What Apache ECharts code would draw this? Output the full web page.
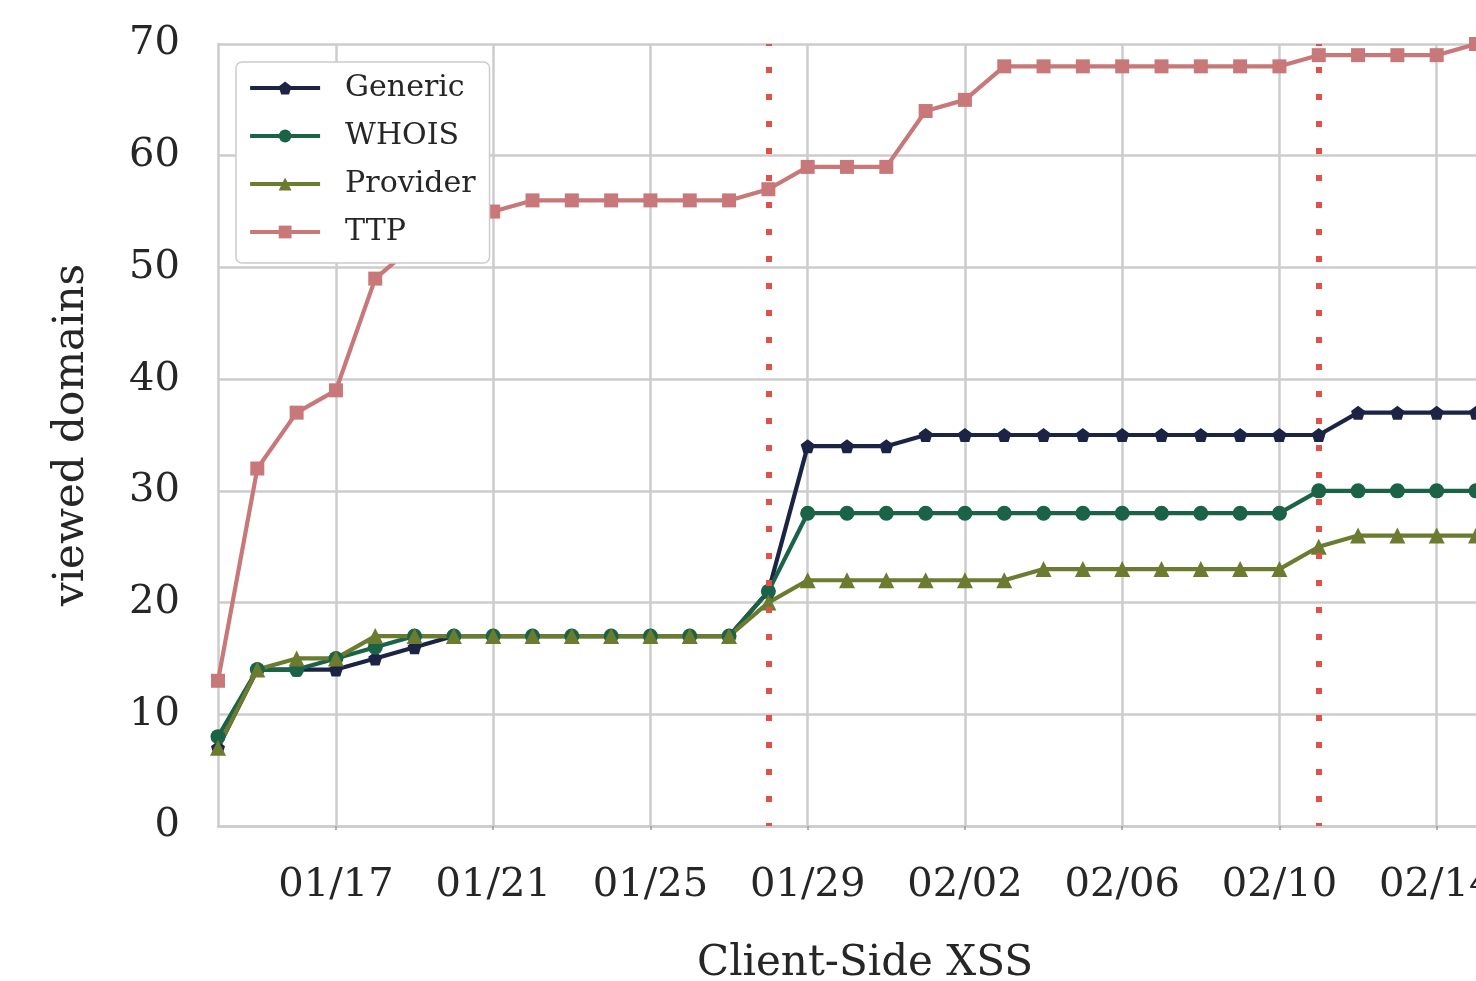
<!DOCTYPE html>
<html>
<head>
<meta charset="utf-8">
<script src="https://cdn.jsdelivr.net/npm/echarts@6/dist/echarts.min.js"></script>
<style>
html,body{margin:0;padding:0;background:#fff;}
#chart{width:1476px;height:981px;}
</style>
</head>
<body>
<div id="chart"></div>
<script>
const dates = ['01/14','01/15','01/16','01/17','01/18','01/19','01/20','01/21','01/22','01/23','01/24','01/25','01/26','01/27','01/28','01/29','01/30','01/31','02/01','02/02','02/03','02/04','02/05','02/06','02/07','02/08','02/09','02/10','02/11','02/12','02/13','02/14','02/15'];
const generic  = [7,14,14,14,15,16,17,17,17,17,17,17,17,17,21,34,34,34,35,35,35,35,35,35,35,35,35,35,35,37,37,37,37];
const whois    = [8,14,14,15,16,17,17,17,17,17,17,17,17,17,21,28,28,28,28,28,28,28,28,28,28,28,28,28,30,30,30,30,30];
const provider = [7,14,15,15,17,17,17,17,17,17,17,17,17,17,20,22,22,22,22,22,22,23,23,23,23,23,23,23,25,26,26,26,26];
const ttp      = [13,32,37,39,49,52,54,55,56,56,56,56,56,56,57,59,59,59,64,65,68,68,68,68,68,68,68,68,69,69,69,69,70];
const eventDates = ['01/28','02/11'];
const seriesNames = ['Generic','WHOIS','Provider','TTP'];
const yTicks = [0,10,20,30,40,50,60,70];

const FONT = 'DejaVu Serif';
const TXT = '#262626';
const GRID = '#cccccc';
const pentagon = 'path://M0,-1 L0.951,-0.309 L0.588,0.809 L-0.588,0.809 L-0.951,-0.309 Z';
const tickFn = (i) => (i - 3) % 4 === 0;

const chart = echarts.init(document.getElementById('chart'), null, {renderer:'canvas'});
function mk(name, data, color, symbol, size) {
  return {
    name, type:'line', data, symbol, symbolSize:size, showAllSymbol:true,
    lineStyle:{color, width:4.2}, itemStyle:{color}, z:3
  };
}
chart.setOption({
  animation:false,
  backgroundColor:'#ffffff',
  textStyle:{fontFamily:FONT},
  grid:{left:218, top:44, right:0, bottom:155, containLabel:false, outerBoundsMode:'none'},
  legend:{
    data:seriesNames, orient:'vertical', left:236, top:62,
    backgroundColor:'#ffffff', borderColor:'#cccccc', borderWidth:1.5, borderRadius:6,
    padding:[8,14,13,12], itemWidth:70, itemHeight:16, itemGap:12,
    lineStyle:{width:4.2},
    textStyle:{fontFamily:FONT, fontSize:30, color:TXT, lineHeight:36, padding:[0,0,0,20]}
  },
  xAxis:{
    type:'category', data:dates, boundaryGap:false,
    name:'Client-Side XSS', nameLocation:'middle', nameGap:117,
    nameTextStyle:{fontFamily:FONT, fontSize:42, color:TXT, padding:[0,0,0,36]},
    axisLine:{show:true, lineStyle:{color:GRID, width:2.5}},
    axisTick:{show:true, interval:tickFn, length:4, lineStyle:{color:'#999', width:1.5}},
    axisLabel:{interval:tickFn, fontFamily:FONT, fontSize:40, color:TXT, margin:40},
    splitLine:{show:true, interval:tickFn, lineStyle:{color:GRID, width:2.5}}
  },
  yAxis:{
    type:'value', min:yTicks[0], max:yTicks[yTicks.length-1], interval:10,
    name:'viewed domains', nameLocation:'middle', nameGap:125,
    nameTextStyle:{fontFamily:FONT, fontSize:42, color:TXT},
    axisLine:{show:true, lineStyle:{color:GRID, width:2.5}},
    axisTick:{show:false},
    axisLabel:{fontFamily:FONT, fontSize:40, color:TXT, margin:38},
    splitLine:{show:true, lineStyle:{color:GRID, width:2.5}}
  },
  series:[
    {
      name:'events', type:'line', data:[], z:2, silent:true,
      markLine:{
        silent:true, symbol:['none','none'], label:{show:false}, animation:false,
        lineStyle:{color:'#e0514a', type:[6,21], dashOffset:3, width:6, cap:'butt'},
        emphasis:{disabled:true},
        data:eventDates.map(d => ({xAxis:d}))
      }
    },
    mk('Generic', generic, '#1b2444', pentagon, 14),
    mk('WHOIS', whois, '#1a6347', 'circle', 15),
    mk('Provider', provider, '#6b7b2f', 'triangle', 16),
    mk('TTP', ttp, '#c87878', 'rect', 14)
  ]
});
</script>
</body>
</html>
